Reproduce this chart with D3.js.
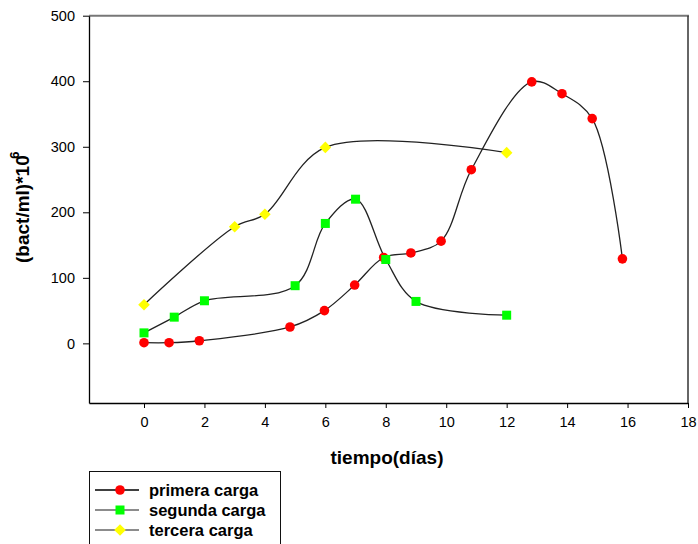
<!DOCTYPE html>
<html>
<head>
<meta charset="utf-8">
<script src="https://cdn.jsdelivr.net/npm/d3@7"></script>
<style>
  html, body { margin: 0; padding: 0; background: #fff; }
  svg { display: block; font-family: "Liberation Sans", Arial, sans-serif; }
</style>
</head>
<body>
<svg id="chart" width="698" height="544"></svg>
<script>
// Bacterial counts over time for three loads
const daysPrimera = [0, 0.83, 1.83, 4.83, 5.97, 6.97, 7.93, 8.83, 9.83, 10.83, 12.83, 13.83, 14.83, 15.83];
const primera     = [1, 1, 4, 25, 50, 89, 131, 138, 156, 265, 399, 381, 343, 129];

const daysSegunda = [0, 1, 2, 5, 6, 7, 8, 9, 12];
const segunda     = [16, 40, 65, 88, 183, 220, 128, 64, 43];

const daysTercera = [0, 3, 4, 6, 12];
const tercera     = [59, 178, 197, 299, 291];

const xTicks = [0, 2, 4, 6, 8, 10, 12, 14, 16, 18];
const yTicks = [0, 100, 200, 300, 400, 500];

const seriesNames = ["primera carga", "segunda carga", "tercera carga"];

const svg = d3.select("#chart");

const x = d3.scaleLinear().domain([-1.82, 18]).range([89, 688]);
const y = d3.scaleLinear().domain([-91, 500]).range([403, 15.7]);

// Frame: gray top and right edges
svg.append("line").attr("x1", 89).attr("x2", 689).attr("y1", 15.7).attr("y2", 15.7)
  .attr("stroke", "#777").attr("stroke-width", 2);
svg.append("line").attr("x1", 688).attr("x2", 688).attr("y1", 15.7).attr("y2", 403)
  .attr("stroke", "#333").attr("stroke-width", 1.5);

// Axes
const xAxis = d3.axisBottom(x).tickValues(xTicks).tickSize(5).tickPadding(9).tickSizeOuter(0);
const yAxis = d3.axisLeft(y).tickValues(yTicks).tickSize(6).tickPadding(8).tickSizeOuter(0);

const gx = svg.append("g").attr("transform", "translate(0,403)").call(xAxis);
const gy = svg.append("g").attr("transform", "translate(89,0)").call(yAxis);

[gx, gy].forEach(g => {
  g.select(".domain").attr("stroke", "#000").attr("stroke-width", 1.3);
  g.selectAll(".tick line").attr("stroke", "#000").attr("stroke-width", 1);
  g.selectAll(".tick text").attr("fill", "#000")
    .style("font-family", "'Liberation Sans', Arial, sans-serif")
    .style("font-size", "14.5px");
});

// Axis titles
svg.append("text").attr("x", 387).attr("y", 464).attr("text-anchor", "middle")
  .style("font-size", "19px").style("font-weight", "bold").text("tiempo(días)");

const yTitle = svg.append("g").attr("transform", "translate(29,263) rotate(-90)");
yTitle.append("text").attr("x", 0).attr("y", 0)
  .style("font-size", "19px").style("font-weight", "bold").text("(bact/ml)*10");
yTitle.append("text").attr("x", 108).attr("y", -10).attr("text-anchor", "middle")
  .style("font-size", "13px").style("font-weight", "bold").text("6");

// Curves
const line = d3.line().x(d => x(d[0])).y(d => y(d[1])).curve(d3.curveCatmullRom.alpha(0.5));

const series = [
  { days: daysPrimera, vals: primera, color: "#ff0000", shape: "circle" },
  { days: daysSegunda, vals: segunda, color: "#00ff00", shape: "square" },
  { days: daysTercera, vals: tercera, color: "#ffff00", shape: "diamond" }
];

series.forEach(s => {
  const pts = s.days.map((d, i) => [d, s.vals[i]]);
  svg.append("path").datum(pts).attr("d", line)
    .attr("fill", "none").attr("stroke", "#222").attr("stroke-width", 1.3);
});

function drawMarker(g, shape, color, cx, cy) {
  if (shape === "circle") {
    g.append("circle").attr("cx", cx).attr("cy", cy).attr("r", 4.8).attr("fill", color);
  } else if (shape === "square") {
    g.append("rect").attr("x", cx - 4.5).attr("y", cy - 4.5).attr("width", 9).attr("height", 9).attr("fill", color);
  } else {
    const r = 5.8;
    g.append("path").attr("d", `M${cx},${cy - r}L${cx + r},${cy}L${cx},${cy + r}L${cx - r},${cy}Z`).attr("fill", color);
  }
}

series.forEach(s => {
  const g = svg.append("g");
  s.days.forEach((d, i) => drawMarker(g, s.shape, s.color, x(d), y(s.vals[i])));
});

// Legend
const legend = svg.append("g");
legend.append("rect").attr("x", 89.5).attr("y", 471.5).attr("width", 191).attr("height", 100)
  .attr("fill", "none").attr("stroke", "#111").attr("stroke-width", 1);
const legendLineColors = ["#000", "#666", "#666"];
series.forEach((s, i) => {
  const ly = 490 + i * 20;
  legend.append("line").attr("x1", 95).attr("x2", 139).attr("y1", ly).attr("y2", ly)
    .attr("stroke", legendLineColors[i]).attr("stroke-width", 1.3);
  drawMarker(legend, s.shape, s.color, 120, ly);
  legend.append("text").attr("x", 149).attr("y", ly + 6)
    .style("font-size", "16.5px").style("font-weight", "bold").text(seriesNames[i]);
});
</script>
</body>
</html>
